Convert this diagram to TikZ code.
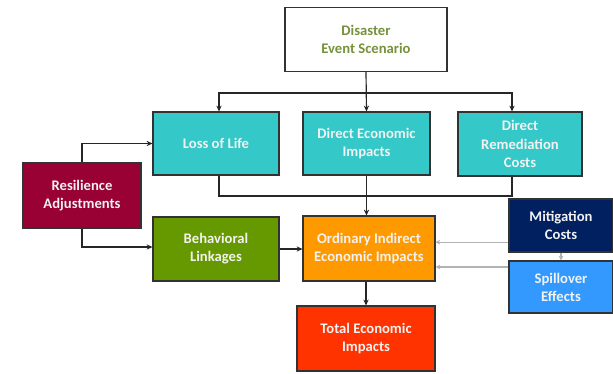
\documentclass[tikz,border=0pt]{standalone}
\usepackage{fontspec}
\setmainfont{Carlito}
\usetikzlibrary{arrows.meta}

\definecolor{lifeteal}{RGB}{52,200,200}
\definecolor{resilred}{RGB}{153,0,51}
\definecolor{behavgreen}{RGB}{102,153,0}
\definecolor{indorange}{RGB}{255,153,0}
\definecolor{totalred}{RGB}{255,51,0}
\definecolor{mitignavy}{RGB}{0,32,96}
\definecolor{spillblue}{RGB}{51,153,255}
\definecolor{eventgreen}{RGB}{118,146,60}
\definecolor{boxline}{RGB}{50,50,50}

\begin{document}
\begin{tikzpicture}[
    every node/.style={font=\fontsize{12.5}{15.5}\selectfont\bfseries, align=center},
    box/.style={draw=boxline, line width=0.9pt, text=white!95!black, inner sep=0pt},
    link/.style={-{Stealth[length=5pt,width=4.5pt]}, line width=1pt, black!85},
    softlink/.style={-{Stealth[length=4pt,width=4pt]}, line width=1pt, black!30}]

    \useasboundingbox (0,0) rectangle (18.39,11.19);

    % Scenario on top
    \node[box, fill=white, text=eventgreen, minimum width=4.86cm, minimum height=1.92cm] (event) at (10.98,10.0) {Disaster\\Event Scenario};

    % Direct effects
    \node[box, fill=lifeteal, minimum width=3.78cm, minimum height=1.89cm] (life) at (6.48,6.885) {Loss of Life};
    \node[box, fill=lifeteal, minimum width=3.81cm, minimum height=1.89cm] (direct) at (10.995,6.885) {Direct Economic\\Impacts};
    \node[box, fill=lifeteal, minimum width=3.72cm, minimum height=1.92cm] (remedy) at (15.6,6.87) {Direct\\Remediation\\Costs};

    % Left side
    \node[box, fill=resilred, minimum width=3.54cm, minimum height=1.95cm] (resil) at (2.46,5.325) {Resilience\\Adjustments};
    \node[box, fill=behavgreen, minimum width=3.78cm, minimum height=1.92cm] (behav) at (6.48,3.72) {Behavioral\\Linkages};

    % Indirect and total
    \node[box, fill=indorange, minimum width=3.96cm, minimum height=1.95cm] (indirect) at (11.07,3.735) {Ordinary Indirect\\Economic Impacts};
    \node[box, fill=totalred, minimum width=4.14cm, minimum height=1.95cm] (total) at (10.98,1.035) {Total Economic\\Impacts};

    % Right side
    \node[box, fill=mitignavy, minimum width=3.12cm, minimum height=1.59cm] (mitig) at (16.83,4.425) {Mitigation\\Costs};
    \node[box, fill=spillblue, minimum width=3.12cm, minimum height=1.56cm] (spill) at (16.83,2.58) {Spillover\\Effects};

    % taps on the two bus lines
    \coordinate (topbus) at (10.98,8.4);
    \coordinate (lowbus) at (10.98,5.31);
    \coordinate (lifetap) at ([xshift=0.09cm]life.north);
    \coordinate (remtap) at ([xshift=-0.24cm]remedy.north);

    % scenario feeds the direct effects
    \draw[link] (event.south) -- (direct.north);
    \draw[link] (topbus) -| (lifetap);
    \draw[link] (topbus) -| (remtap);

    % direct effects collected into the indirect box
    \draw[line width=1pt, black!85] (lifetap |- life.south) |- (lowbus) -| (remtap |- remedy.south);
    \draw[link] (direct.south) -- (direct.south |- indirect.north);

    % resilience branches
    \draw[link] (resil.north) |- (life.west);
    \draw[link] (resil.south) |- ([yshift=0.06cm]behav.west);
    \draw[link] (behav.east) -- (behav.east -| indirect.west);

    % down to the total
    \draw[link] (total.north |- indirect.south) -- (total.north);

    % grey feedback from the right
    \coordinate (mitout) at ([yshift=-0.5cm]mitig.west);
    \coordinate (spillout) at ([yshift=0.6cm]spill.west);
    \draw[softlink] (mitout) -- (mitout -| indirect.east);
    \draw[softlink] (spillout) -- (spillout -| indirect.east);
    \draw[softlink] (mitig.south) -- (spill.north);

\end{tikzpicture}
\end{document}
